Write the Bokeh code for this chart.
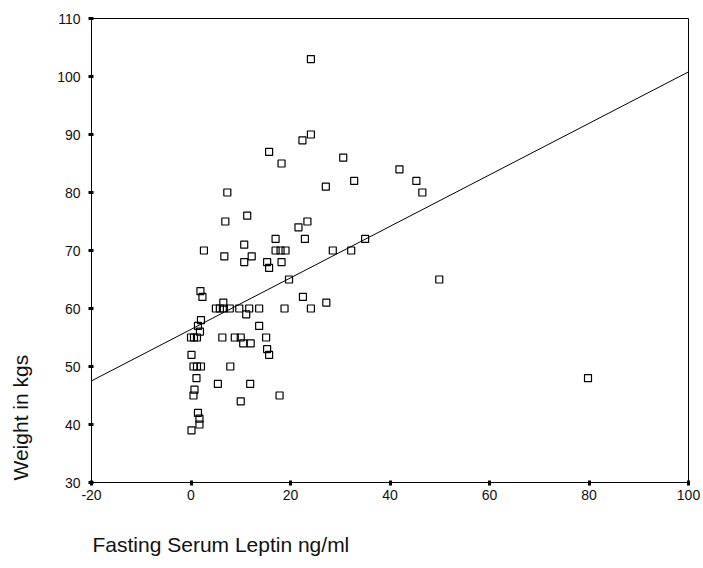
from bokeh.plotting import figure
from bokeh.models import Range1d, FixedTicker, Title
from bokeh.embed import file_html
from bokeh.resources import INLINE

# Fasting serum leptin (ng/ml) and weight (kg)
leptin = [24.1, 24.1, 22.4, 15.7, 18.2, 30.6, 32.8, 27.1, 7.3, 6.9, 11.3,
          23.4, 21.6, 17.0, 22.9, 10.7, 2.6, 17.0, 18.0, 19.0, 28.5, 32.2,
          35.0, 6.7, 12.2, 10.7, 15.3, 15.7, 18.2, 19.7, 1.9, 2.3, 22.5,
          27.2, 6.5, 5.0, 5.8, 6.6, 7.8, 9.7, 11.7, 13.7, 18.8, 24.1, 11.1,
          2.0, 1.4, 1.8, 13.7, 0.0, 0.6, 1.2, 6.3, 8.8, 10.0, 10.5, 12.0,
          15.1, 15.3, 15.7, 0.1, 0.5, 1.2, 2.0, 7.9, 1.1, 5.4, 11.9, 0.7,
          0.5, 10.0, 17.8, 1.4, 1.7, 1.7, 0.1, 41.9, 45.3, 46.5, 49.9, 79.8]
weight = [103, 90, 89, 87, 85, 86, 82, 81, 80, 75, 76,
          75, 74, 72, 72, 71, 70, 70, 70, 70, 70, 70,
          72, 69, 69, 68, 68, 67, 68, 65, 63, 62, 62,
          61, 61, 60, 60, 60, 60, 60, 60, 60, 60, 60, 59,
          58, 57, 56, 57, 55, 55, 55, 55, 55, 55, 54, 54,
          55, 53, 52, 52, 50, 50, 50, 50, 48, 47, 47, 46,
          45, 44, 45, 42, 41, 40, 39, 84, 82, 80, 65, 48]

# Fitted regression line
fit_intercept = 56.4
fit_slope = 0.444
x_limits = [-20, 100]
y_limits = [30, 110]
x_ticks = [-20, 0, 20, 40, 60, 80, 100]
x_tick_labels = ["-20", "0", "20", "40", "60", "80", "100"]
y_ticks = [30, 40, 50, 60, 70, 80, 90, 100, 110]
x_title = "Fasting Serum Leptin ng/ml"
y_title = "Weight in kgs"

FONT = "Liberation Sans"

p = figure(width=703, height=568, output_backend="svg", toolbar_location=None,
           x_range=Range1d(*x_limits), y_range=Range1d(*y_limits),
           min_border_left=91, min_border_right=15, min_border_top=18,
           min_border_bottom=86)
p.xgrid.visible = False
p.ygrid.visible = False
p.outline_line_color = "black"
p.outline_line_width = 1
p.background_fill_color = "white"
p.border_fill_color = "white"

for ax, ticks in ((p.xaxis[0], x_ticks), (p.yaxis[0], y_ticks)):
    ax.ticker = FixedTicker(ticks=ticks)
    ax.minor_tick_line_color = None
    ax.major_tick_in = 2
    ax.major_tick_out = 3
    ax.major_tick_line_width = 3
    ax.major_tick_line_color = "black"
    ax.axis_line_color = "black"
    ax.major_label_text_font = FONT
    ax.major_label_text_font_size = "14px"
    ax.major_label_text_color = "#111111"
p.xaxis[0].major_label_overrides = dict(zip(x_ticks, x_tick_labels))
p.xaxis[0].major_label_standoff = 4
p.yaxis[0].major_label_standoff = 8

fx = [x_limits[0], x_limits[1]]
fy = [fit_intercept + fit_slope * v for v in fx]
p.line(fx, fy, line_color="black", line_width=1)

p.scatter(leptin, weight, marker="square", size=7, line_color="black",
          line_width=1.2, fill_color=None)

# Axis titles: an empty spacer line keeps them at the reference position
p.add_layout(Title(text="\n" + x_title, align="left", offset=1,
                   vertical_align="bottom", standoff=11, text_font=FONT,
                   text_font_size="21px", text_font_style="normal",
                   text_color="#111111"), "below")
p.add_layout(Title(text=y_title + "\n", align="left", offset=2,
                   vertical_align="bottom", standoff=0, text_font=FONT,
                   text_font_size="21px", text_font_style="normal",
                   text_line_height=1.0, text_color="#111111"), "left")

open("out.html", "w").write(file_html(p, INLINE))
